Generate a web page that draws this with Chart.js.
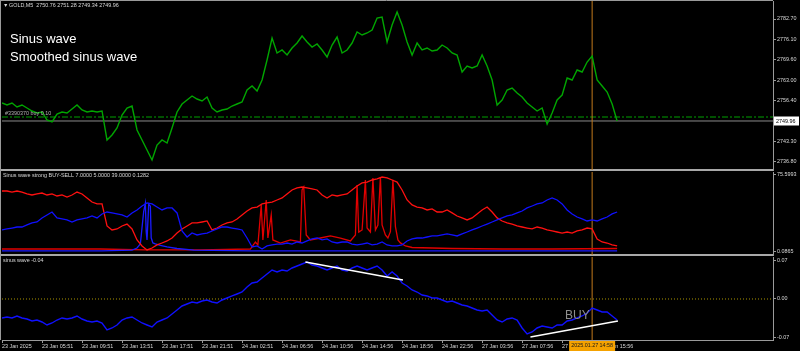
<!DOCTYPE html>
<html><head><meta charset="utf-8">
<script src="https://cdn.jsdelivr.net/npm/chart.js@4.4.1/dist/chart.umd.min.js"></script>
<style>
html,body{margin:0;padding:0;background:#000;width:800px;height:351px;overflow:hidden}
canvas{position:absolute;left:0;display:block}
</style></head><body>
<canvas id="cA" width="800" height="171" style="top:0"></canvas>
<canvas id="cB" width="800" height="85" style="top:171px"></canvas>
<canvas id="cC" width="800" height="95" style="top:256px"></canvas>
<script>
// ---------- DATA ----------
const BAR_STEP = 6;           // bars between samples
const X_MAX = 925;            // visible bars
const timeTickBars = [0,48,96,144,192,240,288,336,384,432,480,528,576,624,672,720];
const timeLabels = ["23 Jan 2025","23 Jan 05:51","23 Jan 09:51","23 Jan 13:51","23 Jan 17:51","23 Jan 21:51","24 Jan 02:51","24 Jan 06:56","24 Jan 10:56","24 Jan 14:56","24 Jan 18:56","24 Jan 22:56","27 Jan 03:56","27 Jan 07:56","27 Jan 11:56","27 Jan 15:56"];

const price = [2755.74,2755.09,2755.74,2754.45,2755.09,2754.13,2753.17,2752.53,2752.85,2750.28,
2749.64,2752.20,2752.85,2752.53,2753.81,2755.09,2753.49,2752.85,2753.17,2752.85,
2753.17,2743.86,2745.46,2747.71,2751.88,2754.13,2754.77,2747.07,2743.86,2740.65,
2737.44,2742.25,2743.86,2742.90,2747.71,2752.85,2755.41,2756.70,2757.98,2757.02,
2756.38,2757.66,2754.13,2752.85,2753.49,2753.81,2754.77,2755.41,2756.06,2759.91,
2761.19,2759.59,2763.12,2769.54,2776.60,2771.79,2772.75,2771.14,2773.39,2774.99,
2777.24,2775.32,2773.71,2774.67,2772.75,2770.50,2774.35,2776.92,2771.79,2772.75,
2774.99,2778.53,2777.56,2778.21,2779.17,2783.02,2783.34,2775.32,2780.77,2784.95,
2780.77,2775.32,2771.14,2774.99,2772.75,2773.39,2772.43,2772.75,2774.35,2773.39,
2771.79,2771.14,2765.69,2767.61,2766.97,2767.61,2771.14,2767.61,2763.12,2755.09,
2756.70,2759.91,2760.55,2758.95,2757.66,2755.74,2754.45,2753.17,2754.13,2749.00,
2752.53,2756.70,2758.30,2763.76,2763.12,2766.33,2765.69,2768.89,2770.82,2763.12,
2761.19,2759.27,2755.41,2749.96];
const priceTicks = [2736.80,2743.30,2756.40,2763.00,2769.60,2776.10,2782.70];
const lastPrice = 2749.96;
const orderPrice = 2751.24;
const markerBar = 708;

const sellStrength = [59.9,59.9,58.9,59.9,58.9,57.0,56.0,57.0,57.9,56.0,
57.0,55.0,56.0,54.0,56.0,58.9,57.0,53.1,49.1,47.2,
47.2,25.6,21.7,22.7,25.6,27.5,22.7,11.9,6.0,2.1,
4.0,7.0,8.9,10.9,13.8,18.7,22.7,25.6,28.6,28.6,
29.5,30.5,21.7,23.6,26.6,28.6,29.5,32.5,36.4,40.3,
43.3,44.2,47.2,48.2,49.1,51.1,53.1,57.0,60.9,62.9,
63.8,62.9,61.9,60.9,56.0,53.1,56.0,55.0,56.0,57.0,
60.9,64.8,67.8,68.7,70.7,71.7,73.6,72.7,70.7,68.7,
60.9,51.1,46.2,44.2,43.3,41.3,42.3,39.3,39.3,41.3,
38.4,35.4,33.5,31.5,33.5,37.4,41.3,44.2,39.3,33.5,
30.5,28.6,27.5,25.6,24.6,23.6,22.7,24.6,23.6,21.7,
20.7,19.7,18.7,19.7,18.7,20.7,21.7,23.6,22.7,12.9,
9.9,8.9,7.0,6.0];
const buyStrength = [21.7,22.7,23.6,24.6,24.6,26.6,28.6,29.5,33.5,36.4,
39.3,33.5,32.5,31.5,29.5,31.5,32.5,33.5,35.4,33.5,
37.4,39.3,38.4,37.4,36.4,34.4,38.4,41.3,45.2,48.2,
47.2,44.2,41.3,43.3,43.3,38.4,20.7,14.8,18.7,16.8,
17.8,18.7,20.7,22.7,24.6,24.6,23.6,22.7,21.7,13.8,
5.0,6.0,3.0,6.0,7.0,7.9,7.9,8.9,7.9,9.9,
8.9,10.9,12.9,13.8,11.9,12.9,9.9,8.9,9.9,9.9,
7.9,7.0,7.9,8.9,7.0,7.9,9.9,7.0,6.0,6.0,
7.0,10.9,12.9,13.8,13.8,14.8,15.8,15.8,16.8,17.8,
16.8,15.8,17.8,19.7,21.7,23.6,25.6,27.5,29.5,31.5,
33.5,35.4,36.4,38.4,40.3,43.3,45.2,47.2,48.2,51.1,
53.1,51.1,47.2,41.3,37.4,34.4,32.5,30.5,31.5,30.5,
32.5,34.4,37.4,39.3];
const sellSpikeBars = [0,118,172,238,298,304,307,311,313,317,319,323,325,334,346,358,360,362,365,370,382,394,406,418,424,426,428,432,436,438,442,445,448,451,454,456,460,463,466,469,472,475,478,484,492,540,600,660,738];
const sellSpikeVals = [3.0,3.0,2.1,2.1,3.0,9.9,7.0,46.2,11.9,51.1,13.8,36.4,11.9,8.9,11.9,9.9,60.9,63.8,16.8,11.9,13.8,15.8,13.8,10.9,16.8,65.8,19.7,21.7,70.7,23.6,19.7,72.7,21.7,26.6,73.6,26.6,16.8,13.8,20.0,71.0,25.0,12.0,9.0,6.0,4.5,3.5,3.0,3.0,3.5];
const buySpikeBars = [0,120,156,162,166,170,172,173,174,176,178,179,181,184,190,198,210,230,298,400,500,600,738];
const buySpikeVals = [1.1,1.1,2.0,4.0,8.0,40.0,48.0,20.0,12.0,47.0,45.0,14.0,9.0,8.0,6.5,5.0,3.5,2.0,1.1,1.1,1.1,1.1,1.1];
const strengthTicks = [0.0865,75.5993];

const sinusWave = [-0.0345,-0.0327,-0.0345,-0.0309,-0.0345,-0.0364,-0.0400,-0.0382,-0.0418,-0.0473,
-0.0436,-0.0382,-0.0345,-0.0364,-0.0345,-0.0309,-0.0364,-0.0400,-0.0418,-0.0400,
-0.0436,-0.0564,-0.0527,-0.0473,-0.0382,-0.0345,-0.0327,-0.0382,-0.0436,-0.0473,
-0.0509,-0.0418,-0.0382,-0.0345,-0.0273,-0.0200,-0.0127,-0.0091,-0.0055,-0.0073,
-0.0036,-0.0018,-0.0055,-0.0073,-0.0018,0.0018,0.0055,0.0091,0.0127,0.0218,
0.0291,0.0309,0.0382,0.0455,0.0527,0.0491,0.0527,0.0509,0.0564,0.0600,
0.0636,0.0673,0.0618,0.0600,0.0564,0.0527,0.0564,0.0600,0.0527,0.0509,
0.0564,0.0600,0.0564,0.0527,0.0564,0.0600,0.0527,0.0418,0.0491,0.0418,
0.0291,0.0236,0.0164,0.0127,0.0073,0.0055,0.0018,0.0018,-0.0018,-0.0055,
-0.0036,-0.0073,-0.0109,-0.0127,-0.0164,-0.0200,-0.0218,-0.0200,-0.0291,-0.0382,
-0.0418,-0.0364,-0.0345,-0.0382,-0.0527,-0.0636,-0.0600,-0.0527,-0.0491,-0.0509,
-0.0527,-0.0473,-0.0473,-0.0400,-0.0382,-0.0345,-0.0309,-0.0255,-0.0164,-0.0200,
-0.0236,-0.0236,-0.0309,-0.0382];
const trend1Bars = [364,481], trend1Vals = [0.0673,0.0345];
const trend2Bars = [634,739], trend2Vals = [-0.0691,-0.0400];
const waveTicks = [-0.07,0.00,0.07];

// ---------- STYLE ----------
const FONT = '"Liberation Sans", Arial, sans-serif';
const FS = 5.4;
const TXT = '#d8d8d8';
const AXIS = '#9a9a9a';
const SEP = '#a8a8a8';
const ORANGE = '#c27a1c';

const toPts = vals => vals.map((v,i)=>({x:i*BAR_STEP, y:v}));
const pairs = (b,v) => b.map((x,i)=>({x:x, y:v[i]}));
const hline = (y) => [{x:0,y:y},{x:X_MAX,y:y}];
const vline = (x,a,b) => [{x:x,y:a},{x:x,y:b}];

function yScale(min,max,ticks,fmt){
  return {type:'linear', position:'right', min:min, max:max,
    afterBuildTicks: s => { s.ticks = ticks.map(v=>({value:v})); },
    afterFit: s => { s.width = 27; s.paddingTop = 0; s.paddingBottom = 0; },
    grid:{drawOnChartArea:false, drawTicks:true, tickLength:3, color:AXIS, lineWidth:1},
    border:{display:true, color:AXIS, width:1},
    ticks:{color:TXT, font:{family:FONT, size:FS}, padding:1, autoSkip:false, maxRotation:0,
      callback:(v,i)=>fmt(ticks[i])}
  };
}
function xHidden(){
  return {type:'linear', min:0, max:X_MAX,
    afterBuildTicks: s => { s.ticks = []; },
    afterFit: s => { s.height = 1; s.paddingLeft = 0; s.paddingRight = 0; },
    grid:{drawOnChartArea:false, drawTicks:false},
    border:{display:true, color:SEP, width:2},
    ticks:{display:false}
  };
}
function xTime(){
  return {type:'linear', min:0, max:X_MAX,
    afterBuildTicks: s => { s.ticks = timeTickBars.map(v=>({value:v})); },
    afterFit: s => { s.height = 11; s.paddingLeft = 0; s.paddingRight = 0; },
    grid:{drawOnChartArea:false, drawTicks:true, tickLength:3, color:AXIS},
    border:{display:true, color:AXIS, width:1},
    ticks:{color:TXT, font:{family:FONT, size:FS}, padding:0, align:'start', autoSkip:false, maxRotation:0, minRotation:0,
      callback:(v,i)=>timeLabels[i]}
  };
}
function line(data,color,w,extra){
  return Object.assign({data:data, borderColor:color, borderWidth:w, pointRadius:0, tension:0, fill:false}, extra||{});
}
function opts(x,y){
  return {responsive:false, animation:false, events:[],
    layout:{padding:{left:2, top:1, right:0, bottom:0}},
    plugins:{legend:{display:false}, tooltip:{enabled:false}},
    scales:{x:x, y:y}};
}
function frame(ctx, w, h, top){
  ctx.save(); ctx.strokeStyle = AXIS; ctx.lineWidth = 1;
  ctx.beginPath(); ctx.moveTo(0.5,0); ctx.lineTo(0.5,h);
  if (top){ ctx.moveTo(0,0.5); ctx.lineTo(773,0.5); }
  ctx.stroke(); ctx.restore();
}
const bg = {id:'bg', beforeDraw(c){ const k=c.ctx; k.save(); k.fillStyle='#000'; k.fillRect(0,0,c.width,c.height); k.restore(); }};

// ---------- PANEL A : price ----------
const pA = {id:'pA', afterDraw(c){
  const k = c.ctx, y = c.scales.y;
  frame(k, c.height, c.height, true);
  k.save();
  k.fillStyle = TXT; k.font = FS+'px '+FONT; k.textBaseline = 'middle';
  k.fillText('\u25BC', 3, 5.5);
  k.fillText('GOLD,M5  2750.76 2751.28 2749.34 2749.96', 9, 5.5);
  k.fillStyle = '#b0b0b0';
  k.fillText('#3390370 buy 0.10', 5, y.getPixelForValue(orderPrice)-3);
  k.fillStyle = '#ffffff'; k.font = '13px '+FONT; k.textBaseline = 'alphabetic';
  k.fillText('Sinus wave', 10, 43);
  k.fillText('Smoothed sinus wave', 10, 61);
  const py = Math.round(y.getPixelForValue(lastPrice));
  k.fillStyle = '#ffffff'; k.fillRect(774, py-4.5, 25, 9);
  k.fillStyle = '#000'; k.font = FS+'px '+FONT; k.textBaseline = 'middle';
  k.fillText(lastPrice.toFixed(2), 776, py+0.5);
  k.restore();
}};
new Chart(document.getElementById('cA'), {type:'line',
  data:{datasets:[
    line(toPts(price), '#00a600', 1.4, {order:0}),
    line(vline(markerBar, 2734, 2790), ORANGE, 1, {order:1}),
    line(hline(orderPrice), '#00a000', 1, {order:2, borderDash:[6,2,2,2]}),
    line(hline(lastPrice), '#8a8a8a', 1, {order:3})
  ]},
  options: opts(xHidden(), yScale(2734.23, 2788.48, priceTicks, v=>v.toFixed(2))),
  plugins:[bg,pA]});

// ---------- PANEL B : strength ----------
const pB = {id:'pB', afterDraw(c){
  const k = c.ctx; frame(k, c.height, c.height, false);
  k.save(); k.fillStyle = TXT; k.font = FS+'px '+FONT; k.textBaseline='middle';
  k.fillText('Sinus wave strong BUY-SELL 7.0000 5.0000 39.0000 0.1282', 3, 5);
  k.restore();
}};
new Chart(document.getElementById('cB'), {type:'line',
  data:{datasets:[
    line(toPts(sellStrength), '#ff1010', 1.3, {order:1}),
    line(toPts(buyStrength), '#1010ff', 1.3, {order:0}),
    line(pairs(sellSpikeBars, sellSpikeVals), '#e00000', 1.3, {order:3}),
    line(pairs(buySpikeBars, buySpikeVals), '#1a1aff', 1.3, {order:2}),
    line(vline(markerBar, -5, 80), ORANGE, 1, {order:4})
  ]},
  options: opts(xHidden(), yScale(-2.86, 78.54, strengthTicks, v=>v.toFixed(4))),
  plugins:[bg,pB]});

// ---------- PANEL C : sinus wave ----------
const pC = {id:'pC', afterDraw(c){
  const k = c.ctx, x = c.scales.x; frame(k, c.height, c.chartArea.bottom, false);
  k.save(); k.fillStyle = TXT; k.font = FS+'px '+FONT; k.textBaseline='middle';
  k.fillText('sinus wave -0.04', 3, 5);
  k.fillStyle = '#8e8e8e'; k.font = '12px '+FONT; k.textBaseline='alphabetic';
  k.fillText('BUY', 565, 319-256);
  const mx = x.getPixelForValue(markerBar);
  k.fillStyle = '#f5a200'; k.fillRect(mx-23, 85, 46, 10);
  k.fillStyle = '#1a1a1a'; k.font = FS+'px '+FONT; k.textBaseline='middle'; k.textAlign='center';
  k.fillText('2025.01.27 14:58', mx, 90);
  k.restore();
}};
new Chart(document.getElementById('cC'), {type:'line',
  data:{datasets:[
    line(toPts(sinusWave), '#1010ff', 1.4, {order:2}),
    line(pairs(trend1Bars, trend1Vals), '#ffffff', 1.4, {order:0}),
    line(pairs(trend2Bars, trend2Vals), '#ffffff', 1.4, {order:1}),
    line(hline(0), '#a89400', 1, {order:4, borderDash:[1,2]}),
    line(vline(markerBar, -0.09, 0.09), ORANGE, 1, {order:3})
  ]},
  options: opts(xTime(), yScale(-0.07455, 0.07636, waveTicks, v=>v.toFixed(2))),
  plugins:[bg,pC]});
</script>
</body></html>
